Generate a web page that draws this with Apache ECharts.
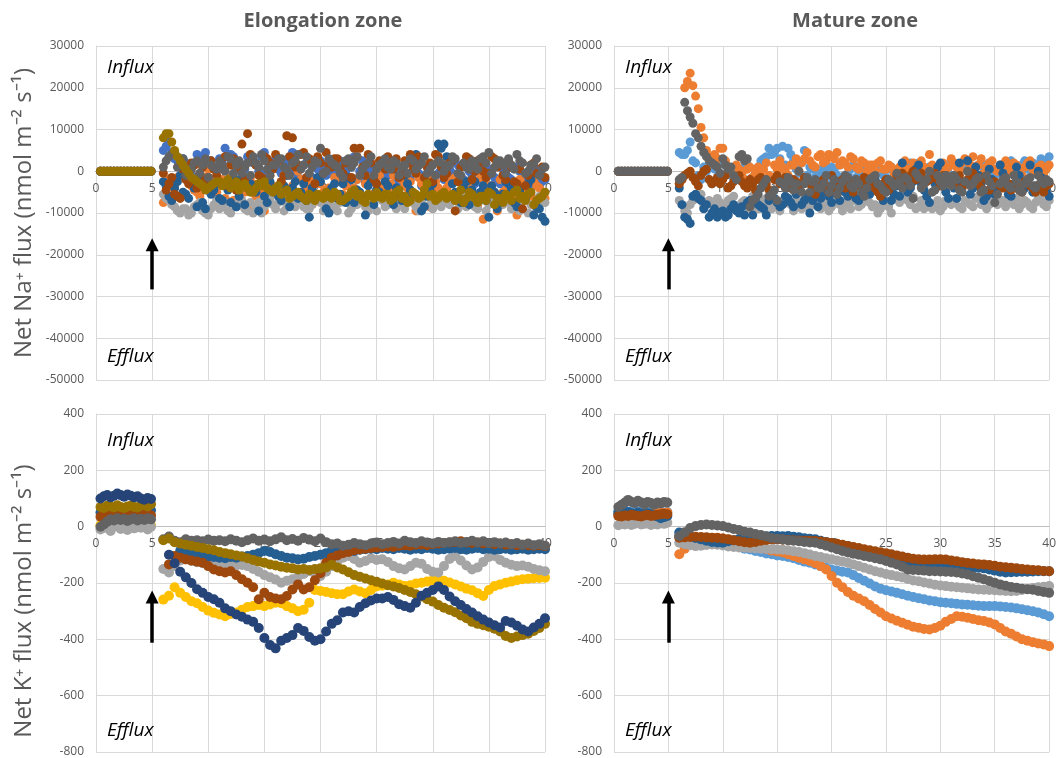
<!DOCTYPE html>
<html>
<head>
<meta charset="utf-8">
<script src="https://cdn.jsdelivr.net/npm/echarts@6/dist/echarts.min.js"></script>
<style>
  html, body { margin: 0; padding: 0; background: #fff; }
  #chart { width: 1059px; height: 758px; }
</style>
</head>
<body>
<div id="chart"></div>
<script>
// time points (min)
const preT = [0.4, 0.7, 1.0, 1.3, 1.6, 1.9, 2.2, 2.5, 2.8, 3.1, 3.4, 3.7, 4.0, 4.3, 4.6, 4.9];
const postT = [6, 6.5, 7, 7.5, 8, 8.5, 9, 9.5, 10, 10.5, 11, 11.5, 12, 12.5, 13, 13.5, 14, 14.5, 15, 15.5,
  16, 16.5, 17, 17.5, 18, 18.5, 19, 19.5, 20, 20.5, 21, 21.5, 22, 22.5, 23, 23.5, 24, 24.5, 25, 25.5,
  26, 26.5, 27, 27.5, 28, 28.5, 29, 29.5, 30, 30.5, 31, 31.5, 32, 32.5, 33, 33.5, 34, 34.5, 35, 35.5,
  36, 36.5, 37, 37.5, 38, 38.5, 39, 39.5, 40];
// extra readings between the above (Na+ panels are sampled more densely)
const midT = [6.25, 6.75, 7.25, 7.75, 8.25, 8.75, 9.25, 9.75, 10.25, 10.75, 11.25, 11.75, 12.25, 12.75, 13.25, 13.75, 14.25, 14.75, 15.25, 15.75,
  16.25, 16.75, 17.25, 17.75, 18.25, 18.75, 19.25, 19.75, 20.25, 20.75, 21.25, 21.75, 22.25, 22.75, 23.25, 23.75, 24.25, 24.75, 25.25, 25.75,
  26.25, 26.75, 27.25, 27.75, 28.25, 28.75, 29.25, 29.75, 30.25, 30.75, 31.25, 31.75, 32.25, 32.75, 33.25, 33.75, 34.25, 34.75, 35.25, 35.75,
  36.25, 36.75, 37.25, 37.75, 38.25, 38.75, 39.25, 39.75];

// ---- Na+ before treatment (all at zero)
const naPre = [0, 0, 0, 0, 0, 0, 0, 0, 0, 0, 0, 0, 0, 0, 0, 0];

// ---- Na+ elongation zone
const naElBlue = [5000, 7000, 3000, 1000, 2000, -1000, 4000, 3500, 2000, 1000, 3000, 5500, 4000, 2500, 1500, 3500, 2000, 0, 4500, 1000,
  3000, -500, 2000, 4500, -1500, 1500, -2500, 1000, 2500, -1000, 500, -2000, 1500, -3000, 3500, 0, -2500, 1000, -1500, 2000,
  -1000, 500, -3000, 1500, -2000, 0, -3500, 1000, -1500, -500, -2000, 500, -2500, 1000, -3000, -1000, 0, -2500, 500, -1500,
  -3000, 0, -2000, 1000, -2500, -1000, -3500, 500, -2000];
const naElBlueMid = [6000, 4500, 2500, 3000, 500, 1500, 3000, 4500, 2500, 0, 2000, 4000, 3500, 1000, 500, 3000, 1500, 3500, -500, 2000,
  500, 2500, 3500, 0, 1000, 2000, -1500, 500, 1500, -500, -1000, 2500, 0, 1000, -2000, 2500, 500, -1000, 1500, -500,
  1000, -1500, 500, -2500, 1000, -500, -2000, 1500, -1000, 500, -1500, -500, 1500, -2000, 0, -3000, 1000, -1500, -500, -2500,
  500, -1500, -3000, 0, -2000, 1000, -1000, -2500];
const naElOrange = [-7500, -2000, -4000, -6000, -1000, -3500, -5000, -2500, 500, -4000, -3000, -6500, -1500, -4500, -2000, -9000, -3000, -5500, -9500, -1000,
  -4000, -2500, -6000, -3500, 0, -5000, -2000, -7000, -3000, -4500, -9000, -2500, -5500, -1500, -4000, -6500, -3000, -2000, -5000, -3500,
  -4500, -1000, -6000, -3500, -2500, -9500, -3000, -5000, -2000, -4000, -6500, -3000, -1500, -5500, -4000, -2500, -8500, -11500, -3500, -5000,
  -2000, -4500, -6000, -10500, -3000, -5500, -2500, -4000, -6500];
const naElOrangeMid = [-5000, -3000, -1500, -5500, -2500, -4500, -6000, -1500, -3000, -5000, -2000, -4000, -7000, -3000, -5000, -1500, -6000, -4000, -2500, -3500,
  -5500, -1000, -4500, -6500, -2000, -3500, -8000, -2500, -5000, -4000, -1500, -6000, -3500, -4500, -2000, -7500, -3000, -5500, -1000, -4500,
  -3000, -6500, -2000, -4000, -5500, -1500, -3500, -8500, -2500, -5000, -4000, -2000, -6000, -3000, -5000, -7000, -1500, -4500, -3500, -9500,
  -5000, -3000, -7000, -2000, -4500, -6000, -3500, -5500];
const naElLtGray = [-5500, -7000, -8500, -10000, -9000, -10000, -8000, -9500, -10500, -8000, -9000, -7500, -10000, -8500, -7000, -9500, -10000, -7500, -8500, -6500,
  -9000, -7000, -8000, -7500, -6000, -8500, -9000, -6500, -7500, -8000, -6000, -9500, -7000, -10000, -6500, -7500, -8500, -6000, -9500, -7000,
  -8000, -6500, -7500, -9000, -6000, -8500, -7000, -5500, -9000, -7500, -6500, -8000, -7000, -5500, -8500, -7500, -9000, -6000, -8000, -7000,
  -6500, -7500, -9000, -8500, -7000, -10000, -8000, -6000, -7500];
const naElLtGrayMid = [-6500, -8000, -9500, -9000, -10500, -8500, -7500, -10000, -9000, -7000, -8500, -9500, -8000, -6500, -9000, -7500, -8500, -10000, -7000, -8000,
  -7500, -9500, -6500, -8500, -7000, -9000, -8000, -6000, -9500, -7000, -8500, -7500, -6500, -9000, -8000, -7000, -9500, -7500, -6500, -8500,
  -7000, -9000, -8000, -6500, -7500, -9500, -6000, -8000, -7000, -8500, -7500, -6000, -9000, -8000, -6500, -8500, -7000, -9500, -7500, -6500,
  -8000, -7000, -8500, -9500, -6500, -8000, -9000, -7000];
const naElDkBlue = [-2500, -6000, -4000, -1000, -5500, -3000, -8500, -7500, -2000, -4500, -6500, -3000, -7500, -8500, -1500, -4000, -3500, -9500, -6000, -2500,
  -5000, -7000, -1000, -4000, -6500, -3000, -11000, -5500, -2500, -9000, -4000, -6500, -3000, -1500, -7500, -5000, -10500, -2500, -4500, -6000,
  -3500, -8000, -5500, -1000, -4500, 4000, -9500, -6000, -3000, 6500, 6500, 2000, -5000, -7500, -2500, -4500, -6500, -3500, -11000, -5000,
  -7000, -2500, -4000, -8500, -6000, -3000, -10500, -9000, -12000];
const naElDkBlueMid = [-3500, -7000, -2500, -5000, -6500, -4000, -2000, -9000, -5500, -3000, -7000, -4500, -1500, -6000, -8000, -3000, -5000, -2000, -7500, -4000,
  -6000, -3500, -8500, -2500, -5000, -7000, -4000, -1500, -6000, -10000, -3000, -5500, -7500, -2000, -4500, -6500, -3500, -8000, -5000, -2500,
  -6000, -4000, -7000, -3000, -5500, 1500, -8500, -4500, -6500, 5500, 3500, -3000, -6000, -4000, -8000, -2500, -5000, -7000, -3500, -9000,
  -5500, -3000, -7500, -4500, -6500, -2000, -8500, -11000];
const naElBrown = [-500, -3000, -5500, -6500, -2000, 2000, -4000, 1000, -1500, 500, -2500, 3500, 1500, -4500, 6500, 9000, 2500, -1000, 3500, 2000,
  4000, -2500, 8500, 8000, 1500, 4500, 3000, -3000, 2000, 4500, 1000, 3000, -500, 2500, 5500, 5500, -1000, 2000, -3000, 1500,
  3500, 500, -1500, 2500, 4000, -500, 3000, 1000, -2500, 3500, -1500, 2000, -9500, 1000, 3500, -2000, 2500, 0, -500, 3000,
  1500, -2000, 1000, -3000, -9000, -1000, 2000, -500, -1500];
const naElBrownMid = [-4500, -1500, -6000, 500, -3000, 1500, -500, -2000, 2500, -1000, 1000, -3500, 3000, 500, -2000, 4000, 1500, -1500, 3000, 500,
  2500, -1000, 3500, 1000, 4000, -1500, 2000, 3500, -500, 1500, 3000, 500, 2000, -1500, 3500, 1000, 4000, -2000, 2500, 500,
  1500, 3000, -1000, 2000, 500, 3500, -1500, 2000, 4000, 1000, -500, 2500, -2500, 1500, 3000, 0, 2000, -1500, 3500, 1000,
  -1000, 2500, -2500, 500, -3500, 1500, -500, 1000];
const naElDkGray = [1000, 3500, 4500, 2000, -1000, 500, 2500, 1500, -1500, 1000, 2500, 0, 3000, 1500, -500, 2000, 3500, 1000, 2500, -1000,
  1500, 3000, 500, 2000, 4000, 1500, -500, 2500, 5500, 0, 2000, 1000, -1500, 3000, 2000, -1000, 1500, 3500, 500, 2000,
  1000, 2500, -1000, 1500, 3000, 500, 2000, -500, 1500, 2500, 0, 1500, 3000, -1000, 1000, 2500, 500, 3500, 4500, 1000,
  2500, -500, 1500, 4000, 2000, 0, 1500, -1000, 1000];
const naElDkGrayMid = [2500, 4000, 1000, 3000, 500, 2000, -500, 3000, 1500, 500, 1500, 3500, -500, 2500, 1000, -1000, 2000, 4000, 500, 1500,
  3000, 1000, -1000, 2500, 500, 3500, 1000, 2000, -500, 3000, 1500, -500, 2500, 1000, 3500, 500, 2000, -1000, 1500, 3000,
  500, 2000, 1000, -500, 2500, 1500, 3500, 500, -1000, 2000, 1000, 3500, -500, 2000, 500, 1500, 3000, 2000, -500, 2500,
  1500, 3000, 500, 2500, -500, 1500, 3000, 500];
const naElOlive = [8000, 9000, 5000, 2500, 500, -1500, -2500, -3500, -4000, -3000, -2500, -3000, -4000, -2500, -3500, -4000, -5000, -3000, -2500, -4500,
  -4000, -5500, -4500, -6000, -5000, -6500, -5500, -7000, -6000, -5000, -6500, -5500, -7000, -6000, -4500, -5500, -7500, -6000, -5000, -6500,
  -5500, -6500, -4500, -6000, -7000, -5500, -6000, -3000, -5500, -6500, -5000, -6000, -7000, -4500, -6500, -5500, -7500, -6000, -5000, -8000,
  -6500, -5500, -7000, -4500, -6000, -5500, -8000, -6500, -5000];
const naElOliveMid = [9000, 7000, 3500, 1500, -500, -2000, -3000, -4500, -3500, -2500, -3500, -2000, -3500, -4500, -3000, -5000, -4000, -3500, -4000, -5000,
  -3500, -5000, -6500, -5500, -6000, -7000, -6000, -5500, -6500, -6000, -5000, -7000, -6500, -5000, -6000, -7000, -5500, -6500, -6000, -5500,
  -7000, -5000, -6500, -7500, -5000, -6500, -4500, -6000, -7000, -5500, -6500, -5500, -6000, -7500, -5000, -6500, -6000, -7000, -5500, -6500,
  -7500, -6000, -5000, -6500, -7000, -5000, -7000, -6000];

// ---- Na+ mature zone
const naMaLtBlue = [4500, 4000, 7000, 2000, -2000, 0, -3000, 1500, -1000, 0, -1500, 500, 1000, -2000, -500, 2500, 3500, 4000, 5500, 6000,
  5500, 2500, -500, 5000, 1000, -1500, -500, 500, 1000, -1000, 2000, -500, 1500, 0, -1000, 1000, -500, 500, -1500, 1000,
  0, 1500, -1000, 500, 2000, -500, 1000, -2000, 1500, 0, 2500, -1000, 1000, 500, -500, 1500, 0, 2000, -1000, 500,
  1000, 2500, -500, 1500, 500, 2000, 1500, 2500, 3500];
const naMaLtBlueMid = [4000, 5000, 2500, -1000, 1000, -2000, 500, -500, 1500, -1000, 0, -1000, 1500, -1500, 1000, 3000, 5500, 4500, 3000, 1500,
  4000, 500, 2000, -1000, 500, -500, 1000, -1500, 0, 1500, -1000, 500, -1500, 1000, 0, -500, 1500, -1000, 500, 0,
  -500, 1000, 2000, -1000, 1000, 0, -1500, 1000, 500, -500, 1500, 0, 2500, -500, 1000, -1000, 1500, 500, -500, 1500,
  2000, 0, 1000, 2500, 500, 1500, 3000, 2000];
const naMaOrange = [-3000, 20000, 23500, 18000, 10500, 5000, 2000, 3000, 5500, 1000, -1000, 500, -2000, 1000, -500, 0, 2000, -1500, 500, 1000,
  -1000, 1500, 0, 3000, 2500, 1000, 4000, 2500, 3500, 4500, 2500, 1000, 3000, 500, 2000, 1500, 0, 2500, 500, 1000,
  -500, 1500, 500, 2000, 0, 1000, 4000, -500, 1500, 500, 3000, 1000, 2000, 0, 3500, 1500, -500, 2000, 500, 1500,
  2500, 0, 1500, -1000, 2000, 500, 1000, -500, 1500];
const naMaOrangeMid = [-2000, 21500, 20500, 15000, 8000, 3500, 4000, 5500, 2500, -500, 1500, -500, 500, -1500, 1000, 500, -1000, 1500, 2500, 0,
  1500, 3000, 2000, 4500, 1500, 3500, 2000, 4000, 3000, 1500, 2000, 3500, 1000, 2500, 0, 1500, 2000, 500, 1500, -500,
  1000, 2500, 0, 1500, 2500, 500, 1500, 0, 2000, 1000, 2000, 500, 3000, 1500, 1000, 3000, 1000, 2500, 0, 1000,
  1500, 2000, 500, 1000, 2500, 0, 1500, 500];
const naMaLtGray = [-7000, -9500, -8000, -6000, -5500, -7500, -8000, -6500, -9000, -7000, -6000, -8500, -7000, -9000, -7500, -8000, -6500, -9000, -7500, -8000,
  -6500, -9500, -8000, -7000, -8500, -6000, -9000, -7500, -8500, -6500, -9500, -8000, -7000, -8500, -6500, -7500, -8000, -9000, -7000, -10000,
  -6500, -5500, -7000, -6000, -8500, -9000, -7500, -8500, -9500, -7000, -8000, -6500, -9000, -7500, -8500, -6000, -7000, -8000, -6500, -7500,
  -8500, -7000, -6500, -8000, -7500, -9000, -6500, -8000, -7000];
const naMaLtGrayMid = [-8000, -10000, -7000, -6500, -8500, -7000, -9500, -7500, -8000, -6500, -9000, -7500, -8500, -6000, -9000, -7000, -8500, -7500, -9500, -6500,
  -8000, -7000, -9000, -8500, -7500, -6500, -8000, -9500, -7000, -8000, -7500, -9000, -6500, -8000, -7000, -8500, -10000, -7500, -8500, -6000,
  -7500, -6500, -8000, -9000, -7000, -8000, -9000, -7000, -8500, -6500, -7500, -8500, -7000, -8000, -6500, -8000, -9000, -7500, -8000, -7000,
  -7500, -8000, -9000, -7000, -8500, -7500, -7000, -8500];
const naMaDkBlue = [-4000, -11000, -12500, -5500, -7000, -8000, -10000, -11000, -9500, -10500, -8000, -10000, -10500, -7000, -6500, -8500, -10500, -6000, -7500, -8000,
  -6500, -8500, -5000, -7000, -10000, -6000, -6500, -4000, -7500, -5500, -3000, -6000, -4000, -7000, -3500, -5500, -2000, -6000, -4500, -7000,
  -3500, 2000, -5000, -2500, 1500, -4500, -7500, -3000, 2000, -5000, -1500, -6500, -3000, 2500, -4000, -1000, -7000, 500, -5500, 1500,
  -3500, -6000, 1000, -4500, -2500, -5000, 0, -3000, -6000];
const naMaDkBlueMid = [-8000, -11500, -6000, -6500, -9000, -11000, -9000, -10000, -11000, -9000, -9500, -8500, -7500, -10500, -8000, -9000, -7000, -6500, -8500, -6000,
  -7500, -5500, -8000, -6000, -7000, -8500, -5000, -6000, -4500, -7000, -5000, -4500, -6500, -3000, -5000, -3000, -4500, -7000, -3500, -5500,
  -6000, -2500, -4000, 500, -3000, -6000, -2000, 1000, -3500, -6500, -4000, 2000, -2500, -5500, 1000, -3000, -6000, -2000, -4500, -500,
  -5500, -3000, -1000, -4000, 1500, -3500, -1500, -5000];
const naMaBrown = [-3000, -1000, 0, -2500, -1000, 500, -3000, -1500, -2000, -4000, -2500, -1000, -3500, -2000, -4500, -1500, -3000, -5000, -1000, -2500,
  -3500, -2000, -4000, -1500, -3000, -5500, -2500, -3500, -1000, -4500, -2000, -3500, -5000, -2500, -1500, -3000, -4000, -6000, -2000, -3500,
  -1000, -500, -2500, 0, -1500, -3000, -2000, -500, -3500, -1000, -2500, -1500, -4000, -2000, -500, -3000, -1500, -4500, -2500, -3500,
  -2000, -4500, -3000, -5000, -2500, -4000, -3500, -5000, -3000];
const naMaBrownMid = [-2000, -500, -1500, -3500, 0, -2000, -2500, -3000, -1000, -3500, -1500, -2500, -4000, -3000, -2000, -3500, -4500, -2000, -3000, -1500,
  -4000, -2500, -3000, -2000, -4500, -3500, -2000, -5000, -3000, -2500, -4000, -3000, -2000, -4000, -2500, -3500, -5000, -3000, -4500, -2500,
  -1500, -3000, -1000, -2000, -500, -2500, -1500, -2000, -1000, -2000, -3000, -1000, -3000, -2500, -1500, -4000, -2000, -3500, -3000, -4000,
  -3000, -3500, -4500, -2500, -3500, -5000, -4000, -3500];
const naMaDkGray = [-2000, 16500, 13000, 9000, 6000, 3500, 2000, 1000, 3000, 500, -1000, 3500, 2500, -8500, -6500, -4000, -2000, -5500, -7000, -3000,
  -1500, -4500, 0, -3000, -5000, -2000, -4000, -1000, -3500, -5500, -2500, -1500, -4000, -3000, -6000, -2000, -1000, -3500, -5000, -2500,
  -500, -4000, -2000, -6500, -1500, -3000, 0, -4500, -2500, -1000, -3500, -2000, -5000, 0, -3000, -1500, -4500, -2500, -7500, -3000,
  -1500, -4000, -2500, -5000, -2000, -3500, -1000, -3000, -2500];
const naMaDkGrayMid = [-1500, 14500, 11500, 8000, 4500, 2500, 1500, -500, 1500, 1000, -2000, 4000, 3000, -7000, -5500, -3000, -6000, -4500, -2500, -4000,
  -2500, -3000, -5000, -1500, -2500, -4000, -3000, -5000, -2000, -4000, -1000, -3500, -2000, -5000, -4000, -1500, -3000, -4500, -2000, -3500,
  -2500, -1500, -3500, -500, -4000, -2000, -5000, -1000, -3500, -2000, -1000, -4500, -2500, -3500, -2000, -5000, -1000, -3500, -5500, -2000,
  -3500, -1000, -4500, -3000, -1500, -4000, -2500, -2000];

// ---- K+ elongation zone
const kElPreNavy = [100, 108, 112, 104, 110, 118, 112, 106, 114, 110, 104, 108, 100, 96, 102, 98];
const kElPreOlive = [70, 66, 74, 72, 68, 76, 70, 66, 72, 74, 70, 68, 74, 78, 72, 80];
const kElPreBlue = [50, 54, 52, 56, 52, 50, 56, 54, 52, 55, 58, 54, 56, 52, 55, 58];
const kElPreBrown = [35, 38, 40, 36, 42, 38, 44, 40, 38, 42, 40, 44, 38, 42, 46, 40];
const kElPreDkGray = [0, 8, 18, 26, 22, 30, 24, 28, 20, 26, 30, 22, 28, 24, 30, 26];
const kElPreLtGray = [-10, -5, 5, -15, 0, 10, -8, -2, -12, 4, -6, 8, -4, 2, -10, 0];
const kElPreGold = [5, 0, 8, 2, 10, 4, 0, 6, 12, 2, 8, 4, 0, 6, 10, 4];

const kElNavy = [null, -100, -130, -160, -180, -200, -222, -235, -250, -258, -270, -290, -300, -312, -320, -330, -338, -360, -395, -420,
  -432, -405, -395, -385, -360, -370, -392, -405, -400, -372, -345, -332, -305, -300, -305, -285, -272, -262, -255, -255,
  -250, -260, -275, -282, -288, -270, -245, -235, -225, -212, -225, -248, -265, -278, -292, -305, -318, -330, -340, -350,
  -358, -335, -340, -352, -365, -372, -358, -345, -325];
const kElOlive = [-48, -42, -55, -60, -64, -68, -72, -76, -80, -84, -90, -94, -98, -102, -106, -112, -118, -124, -128, -134,
  -138, -142, -146, -148, -152, -150, -154, -150, -148, -145, -135, -145, -152, -162, -172, -178, -184, -190, -196, -202,
  -208, -212, -218, -225, -232, -240, -248, -258, -266, -278, -288, -296, -304, -315, -325, -338, -345, -350, -355, -362,
  -372, -388, -395, -390, -385, -380, -370, -360, -345];
const kElBlue = [null, null, null, -86, -92, -98, -102, -100, -106, -108, -110, -112, -108, -110, -106, -104, -100, -94, -86, -90,
  -98, -104, -110, -112, -116, -114, -108, -104, -100, -94, -86, -88, -86, -84, -86, -82, -80, -78, -80, -76,
  -78, -80, -76, -78, -82, -78, -80, -76, -78, -82, -80, -78, -76, -80, -82, -78, -76, -80, -78, -82,
  -80, -78, -82, -80, -78, -82, -80, -78, -80];
const kElBrown = [null, -134, -104, -110, -116, -120, -124, -128, -140, -152, -158, -163, -158, -172, -187, -199, -215, -258, -235, -250,
  -255, -258, -246, -223, -205, -223, -215, -190, -165, -128, -110, -102, -94, -90, -84, -81, -78, -76, -74, -72,
  -70, -72, -68, -66, -68, -64, -63, -66, -62, -60, -58, -56, -54, -52, -56, -58, -56, -60, -58, -62,
  -60, -64, -62, -66, -64, -66, -68, -66, -69];
const kElLtGray = [-150, -163, -140, -120, -116, -122, -126, -130, -128, -132, -126, -134, -130, -138, -136, -140, -150, -160, -172, -180,
  -188, -199, -192, -187, -178, -168, -158, -166, -175, -160, -140, -125, -110, -104, -115, -128, -122, -112, -118, -116,
  -125, -140, -148, -152, -140, -128, -132, -150, -160, -163, -140, -115, -104, -120, -138, -152, -145, -125, -108, -104,
  -118, -128, -135, -140, -138, -142, -150, -155, -158];
const kElGold = [-259, -245, -215, -235, -250, -265, -272, -285, -298, -306, -312, -318, -310, -305, -295, -285, -282, -278, -282, -276,
  -270, -272, -282, -290, -300, -295, -270, -225, -228, -232, -236, -240, -240, -230, -223, -230, -236, -225, -212, -210,
  -205, -199, -205, -211, -208, -202, -199, -195, -190, -187, -192, -198, -205, -212, -220, -226, -236, -246, -225, -211,
  -205, -199, -195, -190, -187, -185, -183, -182, -181];
const kElDkGray = [-45, -35, -50, -55, -45, -50, -48, -52, -46, -50, -48, -52, -45, -50, -55, -48, -42, -50, -46, -52,
  -45, -38, -48, -44, -50, -40, -46, -52, -42, -55, -62, -60, -68, -64, -58, -62, -66, -60, -56, -62,
  -58, -54, -60, -50, -55, -58, -52, -56, -60, -54, -58, -55, -52, -58, -54, -50, -56, -52, -58, -55,
  -60, -56, -62, -58, -64, -60, -66, -62, -68];

// ---- K+ mature zone
const kMaPreDkGray = [70, 78, 86, 95, 88, 84, 92, 86, 80, 88, 84, 78, 86, 82, 88, 86];
const kMaPreLtBlue = [55, 52, 58, 50, 54, 56, 52, 55, 50, 53, 56, 52, 48, 54, 50, 52];
const kMaPreDkBlue = [48, 50, 46, 52, 48, 44, 50, 46, 42, 48, 44, 40, 36, 30, 34, 38];
const kMaPreBrown = [38, 36, 40, 38, 42, 40, 38, 36, 40, 42, 38, 40, 42, 44, 46, 44];
const kMaPreOrange = [42, 44, 40, 46, 44, 42, 48, 44, 46, 42, 44, 48, 46, 50, 48, 50];
const kMaPreLtGray = [5, 10, 8, 12, 6, 10, 14, 8, 10, 12, 6, 10, 8, 12, 10, 14];

const kMaOrange = [-98, -78, -57, -50, -45, -42, -40, -39, -42, -46, -50, -55, -60, -63, -70, -76, -80, -85, -88, -92,
  -98, -104, -110, -116, -122, -130, -140, -152, -175, -199, -215, -232, -245, -255, -265, -278, -292, -305, -318, -326,
  -334, -341, -348, -355, -359, -363, -365, -360, -352, -338, -328, -318, -320, -323, -328, -332, -335, -340, -347, -360,
  -372, -380, -390, -400, -405, -410, -415, -418, -424];
const kMaLtBlue = [-33, -40, -45, -48, -50, -53, -55, -57, -60, -64, -68, -72, -78, -81, -86, -90, -95, -98, -102, -104,
  -108, -112, -118, -124, -128, -134, -140, -146, -152, -156, -160, -163, -172, -182, -192, -202, -212, -220, -226, -230,
  -235, -240, -245, -250, -254, -258, -262, -265, -268, -270, -272, -274, -276, -277, -279, -281, -282, -282, -282, -283,
  -285, -287, -290, -293, -297, -300, -305, -311, -318];
const kMaDkBlue = [-21, -28, -35, -40, -45, -50, -54, -56, -57, -52, -48, -44, -40, -39, -37, -35, -34, -33, -33, -34,
  -33, -36, -38, -41, -43, -45, -50, -54, -58, -62, -66, -69, -75, -82, -88, -94, -99, -104, -110, -118,
  -125, -130, -135, -138, -140, -140, -141, -140, -140, -141, -142, -143, -144, -145, -145, -146, -148, -152, -156, -160,
  -163, -162, -161, -160, -160, -159, -158, -158, -158];
const kMaBrown = [-39, -38, -37, -36, -37, -38, -39, -40, -42, -45, -48, -52, -55, -57, -54, -50, -47, -45, -45, -46,
  -47, -48, -49, -50, -50, -51, -53, -55, -58, -61, -64, -69, -72, -76, -80, -84, -87, -91, -94, -98,
  -102, -106, -110, -114, -116, -117, -117, -116, -116, -117, -120, -123, -126, -129, -131, -133, -134, -136, -139, -142,
  -144, -146, -148, -150, -152, -154, -155, -157, -158];
const kMaLtGray = [-57, -62, -66, -69, -68, -65, -63, -64, -67, -70, -72, -74, -75, -76, -77, -78, -79, -80, -81, -82,
  -84, -87, -90, -94, -99, -104, -108, -112, -116, -120, -124, -128, -134, -140, -146, -152, -158, -163, -168, -172,
  -176, -180, -186, -191, -194, -198, -202, -206, -209, -211, -213, -215, -217, -219, -221, -223, -224, -225, -226, -227,
  -228, -229, -228, -225, -222, -218, -215, -213, -211];
const kMaDkGray = [-33, -20, -5, 2, 6, 8, 6, 4, 2, -3, -8, -12, -18, -21, -26, -30, -35, -40, -43, -45,
  -48, -50, -52, -54, -56, -57, -62, -68, -74, -80, -86, -92, -96, -100, -104, -108, -112, -116, -122, -128,
  -134, -142, -152, -154, -155, -156, -158, -158, -159, -160, -161, -163, -166, -170, -176, -181, -187, -193, -199, -205,
  -210, -214, -217, -220, -222, -224, -228, -232, -235];

// arrow marking treatment at t = 5 (bottom, tip)
const naArrow = [-28300, -17600];
const kArrow = [-412, -250];

const C = {
  blue: '#4472C4', ltBlue: '#5B9BD5', orange: '#ED7D31', ltGray: '#A5A5A5', gold: '#FFC000',
  dkBlue: '#255E91', brown: '#9E480E', dkGray: '#636363', olive: '#997300', navy: '#264478'
};

function pts(pre, post, mid) {
  const out = [];
  preT.forEach((t, i) => { if (pre[i] != null) out.push([t, pre[i]]); });
  postT.forEach((t, i) => {
    if (post[i] != null) out.push([t, post[i]]);
    if (mid && i < midT.length && mid[i] != null) out.push([midT[i], mid[i]]);
  });
  return out;
}

function sc(grid, color, pre, post, mid) {
  return {
    type: 'scatter', xAxisIndex: grid, yAxisIndex: grid,
    symbol: 'circle', symbolSize: grid < 2 ? 9 : 10, silent: true,
    itemStyle: { color: color, opacity: 1 },
    data: pts(pre, post, mid)
  };
}

function arrow(grid, a) {
  return {
    type: 'scatter', xAxisIndex: grid, yAxisIndex: grid, data: [], silent: true,
    markLine: {
      silent: true, animation: false,
      symbol: ['none', 'triangle'], symbolSize: [13, 13],
      label: { show: false },
      lineStyle: { color: '#000', width: 3.5, type: 'solid' },
      data: [[{ coord: [5, a[0]] }, { coord: [5, a[1]] }]]
    }
  };
}

const grids = [
  { left: 96, top: 46, width: 449, height: 334 },
  { left: 614, top: 46, width: 436, height: 334 },
  { left: 96, top: 414, width: 449, height: 338 },
  { left: 614, top: 414, width: 436, height: 338 }
];
const yRange = [[-50000, 30000, 10000], [-50000, 30000, 10000], [-800, 400, 200], [-800, 400, 200]];

const labelFont = { color: '#595959', fontSize: 12, fontFamily: 'Open Sans' };

// x axis sits on y = 0: shift the bottom axis up by the zero's distance from the bottom
const xAxes = grids.map((g, i) => ({
  type: 'value', gridIndex: i, min: 0, max: 40, interval: 5,
  position: 'bottom',
  offset: -g.height * (0 - yRange[i][0]) / (yRange[i][1] - yRange[i][0]),
  axisLine: { show: true, onZero: false, lineStyle: { color: '#BFBFBF', width: 1 } },
  axisTick: { show: false },
  axisLabel: Object.assign({ margin: 11 }, labelFont),
  splitLine: { show: true, lineStyle: { color: '#D9D9D9', width: 1 } }
}));

const yAxes = grids.map((g, i) => ({
  type: 'value', gridIndex: i,
  min: yRange[i][0], max: yRange[i][1], interval: yRange[i][2],
  axisLine: { show: true, onZero: false, lineStyle: { color: '#D9D9D9' } },
  axisTick: { show: false },
  axisLabel: Object.assign({ margin: 12, formatter: v => String(v) }, labelFont),
  splitLine: { show: true, lineStyle: { color: '#D9D9D9', width: 1 } }
}));

const series = [
  // Na+ elongation
  sc(0, C.blue, naPre, naElBlue, naElBlueMid),
  sc(0, C.orange, naPre, naElOrange, naElOrangeMid),
  sc(0, C.ltGray, naPre, naElLtGray, naElLtGrayMid),
  sc(0, C.dkBlue, naPre, naElDkBlue, naElDkBlueMid),
  sc(0, C.brown, naPre, naElBrown, naElBrownMid),
  sc(0, C.dkGray, naPre, naElDkGray, naElDkGrayMid),
  sc(0, C.olive, naPre, naElOlive, naElOliveMid),
  arrow(0, naArrow),
  // Na+ mature
  sc(1, C.ltBlue, naPre, naMaLtBlue, naMaLtBlueMid),
  sc(1, C.orange, naPre, naMaOrange, naMaOrangeMid),
  sc(1, C.ltGray, naPre, naMaLtGray, naMaLtGrayMid),
  sc(1, C.dkBlue, naPre, naMaDkBlue, naMaDkBlueMid),
  sc(1, C.brown, naPre, naMaBrown, naMaBrownMid),
  sc(1, C.dkGray, naPre, naMaDkGray, naMaDkGrayMid),
  arrow(1, naArrow),
  // K+ elongation
  sc(2, C.gold, kElPreGold, kElGold),
  sc(2, C.ltGray, kElPreLtGray, kElLtGray),
  sc(2, C.dkBlue, kElPreBlue, kElBlue),
  sc(2, C.brown, kElPreBrown, kElBrown),
  sc(2, C.dkGray, kElPreDkGray, kElDkGray),
  sc(2, C.olive, kElPreOlive, kElOlive),
  sc(2, C.navy, kElPreNavy, kElNavy),
  arrow(2, kArrow),
  // K+ mature
  sc(3, C.ltBlue, kMaPreLtBlue, kMaLtBlue),
  sc(3, C.orange, kMaPreOrange, kMaOrange),
  sc(3, C.ltGray, kMaPreLtGray, kMaLtGray),
  sc(3, C.dkBlue, kMaPreDkBlue, kMaDkBlue),
  sc(3, C.brown, kMaPreBrown, kMaBrown),
  sc(3, C.dkGray, kMaPreDkGray, kMaDkGray),
  arrow(3, kArrow)
];

function txt(x, y, text, style, rot) {
  return {
    type: 'text', x: x, y: y, rotation: rot || 0, silent: true, z: 100,
    style: Object.assign({ text: text, align: 'center', verticalAlign: 'middle', fontFamily: 'Open Sans' }, style)
  };
}
const titleStyle = { fontSize: 20, fontWeight: 'bold', fill: '#595959' };
const yNameStyle = { fontSize: 24, fill: '#595959' };
const fluxStyle = { fontSize: 19, fontStyle: 'italic', fill: '#000', align: 'left' };

const graphic = [
  txt(323, 21, 'Elongation zone', titleStyle),
  txt(855, 21, 'Mature zone', titleStyle),
  txt(24, 213, 'Net Na\u207A flux (nmol m\u207B\u00B2 s\u207B\u00B9)', yNameStyle, Math.PI / 2),
  txt(24, 601, 'Net K\u207A flux (nmol m\u207B\u00B2 s\u207B\u00B9)', yNameStyle, Math.PI / 2),
  txt(107, 68, 'Influx', fluxStyle),
  txt(107, 357, 'Efflux', fluxStyle),
  txt(625, 68, 'Influx', fluxStyle),
  txt(625, 357, 'Efflux', fluxStyle),
  txt(107, 441, 'Influx', fluxStyle),
  txt(107, 731, 'Efflux', fluxStyle),
  txt(625, 441, 'Influx', fluxStyle),
  txt(625, 731, 'Efflux', fluxStyle)
];

const chart = echarts.init(document.getElementById('chart'), null, { renderer: 'canvas' });
chart.setOption({
  backgroundColor: '#fff',
  animation: false,
  grid: grids,
  xAxis: xAxes,
  yAxis: yAxes,
  series: series,
  graphic: graphic
});
</script>
</body>
</html>
